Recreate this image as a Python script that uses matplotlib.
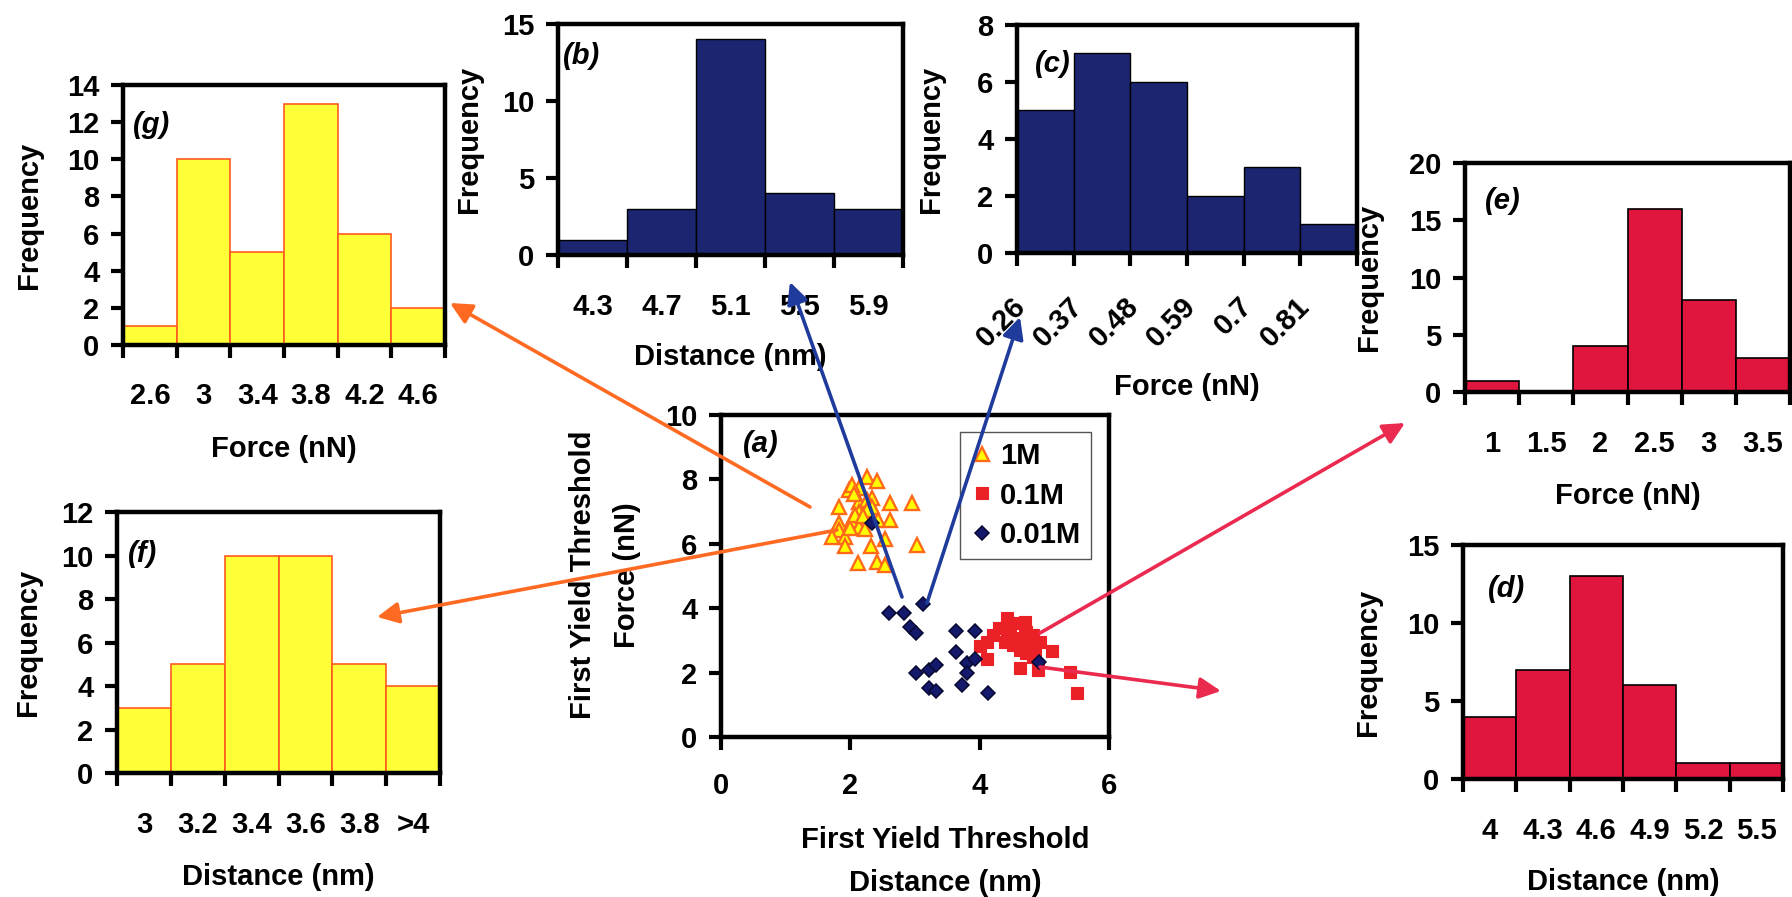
import matplotlib
matplotlib.use("Agg")
import matplotlib.pyplot as plt
from matplotlib.patches import FancyArrowPatch
import numpy as np

plt.rcParams["font.family"] = ["Liberation Sans", "DejaVu Sans"]
plt.rcParams["font.weight"] = "bold"
plt.rcParams["axes.labelweight"] = "bold"

# ---------------- histogram data ----------------
g_labels = ["2.6", "3", "3.4", "3.8", "4.2", "4.6"]
g_freq = [1, 10, 5, 13, 6, 2]

b_labels = ["4.3", "4.7", "5.1", "5.5", "5.9"]
b_freq = [1, 3, 14, 4, 3]

c_labels = ["0.26", "0.37", "0.48", "0.59", "0.7", "0.81"]
c_freq = [5, 7, 6, 2, 3, 1]

e_labels = ["1", "1.5", "2", "2.5", "3", "3.5"]
e_freq = [1, 0, 4, 16, 8, 3]

d_labels = ["4", "4.3", "4.6", "4.9", "5.2", "5.5"]
d_freq = [4, 7, 13, 6, 1, 1]

f_labels = ["3", "3.2", "3.4", "3.6", "3.8", ">4"]
f_freq = [3, 5, 10, 10, 5, 4]

# ---------------- scatter data (distance nm, force nN) ----------------
m1_dist = [2.25, 2.42, 1.98, 2.13, 2.02, 2.34, 2.14, 2.25, 1.82, 2.33, 2.62, 2.95,
           2.13, 2.25, 2.03, 2.43, 2.62, 1.83, 2.13, 2.23, 1.82, 1.71, 1.92, 1.91,
           2.32, 2.54, 3.03, 2.12, 2.41, 2.54, 1.99, 2.07, 2.20, 2.05]
m1_force = [8.08, 7.96, 7.67, 7.72, 7.83, 7.41, 7.31, 7.36, 7.15, 7.15, 7.26, 7.26,
            7.00, 7.05, 6.74, 6.74, 6.74, 6.64, 6.51, 6.45, 6.43, 6.22, 6.20, 5.93,
            5.93, 6.14, 5.96, 5.39, 5.44, 5.34, 6.48, 6.89, 6.85, 7.55]

m01_dist = [4.42, 4.55, 4.70, 4.30, 4.20, 4.11, 4.00, 4.11, 4.39, 4.52, 4.62, 4.72,
            4.83, 4.93, 4.52, 4.62, 4.72, 4.78, 4.83, 4.62, 4.90, 5.12, 5.40, 5.51,
            4.42, 4.70, 4.47, 4.85]
m01_force = [3.69, 3.55, 3.58, 3.37, 3.17, 2.96, 2.84, 2.41, 2.96, 2.86, 3.01, 3.27,
             3.17, 2.96, 3.06, 2.70, 2.60, 2.81, 2.49, 2.13, 2.08, 2.68, 2.03, 1.38,
             3.11, 3.37, 3.30, 2.70]

m001_dist = [2.33, 2.60, 2.83, 3.12, 2.93, 3.02, 3.01, 3.22, 3.32, 3.22, 3.32, 3.63,
             3.93, 3.63, 3.80, 3.93, 3.80, 3.72, 4.13, 4.91]
m001_force = [6.66, 3.84, 3.84, 4.13, 3.41, 3.22, 1.98, 2.08, 2.24, 1.51, 1.44, 3.30,
              3.30, 2.65, 2.31, 2.41, 2.00, 1.61, 1.36, 2.34]

W, H, DPI = 1792, 897, 100
FS = 21

YELLOW = "#ffff38"
YELLOW_EDGE = "#ff5a1e"
NAVY = "#1b2570"
CRIMSON = "#e1163e"
ORANGE = "#ff6a22"
BLUE_ARROW = "#1f3c9c"
RED_ARROW = "#ea2a4f"

fig = plt.figure(figsize=(W / DPI, H / DPI), dpi=DPI)
fig.patch.set_facecolor("white")


def px_axes(left, top, right, bottom):
    return fig.add_axes([left / W, 1 - bottom / H, (right - left) / W, (bottom - top) / H])


def style_frame(ax):
    for sp in ax.spines.values():
        sp.set_linewidth(3.2)
        sp.set_color("black")
    ax.tick_params(which="major", direction="out", length=9, width=3,
                   labelsize=FS, color="black")
    ax.tick_params(axis="y", which="major", pad=8)


def histogram(rect, labels, freq, ymax, ystep, face, edge, elw, tag, tag_pos,
              xlabel, xlabel_y, ylabel_x, rotate=False):
    ax = px_axes(*rect)
    n = len(freq)
    centers = np.arange(n)
    ax.bar(centers, freq, width=1.0, color=face, edgecolor=edge, linewidth=elw, zorder=2)
    ax.set_xlim(-0.5, n - 0.5)
    ax.set_ylim(0, ymax)
    ax.set_yticks(np.arange(0, ymax + ystep / 2, ystep))
    ax.set_xticks(np.arange(n + 1) - 0.5)
    ax.set_xticklabels([])
    style_frame(ax)
    if rotate:
        for i, lab in enumerate(labels):
            ax.text(i - 0.42, -0.215, lab, transform=ax.get_xaxis_transform(),
                    rotation=45, rotation_mode="anchor", ha="right", va="center",
                    fontsize=FS)
    else:
        ax.set_xticks(centers, minor=True)
        ax.set_xticklabels(labels, minor=True)
        ax.tick_params(axis="x", which="minor", length=0, pad=27, labelsize=FS)
    ax.set_xlabel(xlabel, fontsize=FS)
    ax.xaxis.set_label_coords(0.5, xlabel_y)
    ax.set_ylabel("Frequency", fontsize=FS)
    ax.yaxis.set_label_coords(ylabel_x, 0.5)
    ax.text(tag_pos[0], tag_pos[1], tag, transform=ax.transAxes, fontsize=FS,
            style="italic", ha="left", va="top")
    return ax


# histograms around the scatter plot
histogram((123, 85, 445, 345), g_labels, g_freq, 14, 2, YELLOW, YELLOW_EDGE, 1.2,
          "(g)", (0.03, 0.90), "Force (nN)", -0.346, -0.248)
histogram((558, 24, 903, 255), b_labels, b_freq, 15, 5, NAVY, "black", 1.0,
          "(b)", (0.015, 0.92), "Distance (nm)", -0.381, -0.217)
histogram((1017, 25, 1357, 253), c_labels, c_freq, 8, 2, NAVY, "black", 1.0,
          "(c)", (0.053, 0.89), "Force (nN)", -0.526, -0.212, rotate=True)
histogram((1465, 163, 1790, 392), e_labels, e_freq, 20, 5, CRIMSON, "black", 1.2,
          "(e)", (0.06, 0.895), "Force (nN)", -0.393, -0.252)
histogram((1463, 545, 1783, 779), d_labels, d_freq, 15, 5, CRIMSON, "black", 1.2,
          "(d)", (0.078, 0.87), "Distance (nm)", -0.380, -0.253)
histogram((117, 512, 440, 773), f_labels, f_freq, 12, 2, YELLOW, YELLOW_EDGE, 1.2,
          "(f)", (0.034, 0.893), "Distance (nm)", -0.345, -0.232)

# central scatter plot
ax = px_axes(721, 415, 1109, 737)
ax.plot(m1_dist, m1_force, linestyle="none", marker="^", ms=10, mfc="#ffff00",
        mec="#ff6a1a", mew=1.7, label="1M", zorder=3)
ax.plot(m01_dist, m01_force, linestyle="none", marker="s", ms=8, mfc="#ec2128",
        mec="#ec2128", mew=0.8, label="0.1M", zorder=3)
ax.plot(m001_dist, m001_force, linestyle="none", marker="D", ms=7.2, mfc="#15196b",
        mec="#070930", mew=1.1, label="0.01M", zorder=4)
ax.set_xlim(0, 6)
ax.set_ylim(0, 10)
ax.set_xticks([0, 2, 4, 6])
ax.set_yticks(range(0, 11, 2))
style_frame(ax)
ax.tick_params(axis="x", pad=16)
ax.set_xlabel("First Yield Threshold\nDistance (nm)", fontsize=FS, linespacing=1.7)
ax.xaxis.set_label_coords(0.577, -0.276)
ax.set_ylabel("First Yield Threshold\nForce (nN)", fontsize=FS, linespacing=1.7)
ax.yaxis.set_label_coords(-0.207, 0.503)
ax.text(0.057, 0.953, "(a)", transform=ax.transAxes, fontsize=FS, style="italic",
        ha="left", va="top")
leg = ax.legend(loc="upper right", bbox_to_anchor=(0.954, 0.948), frameon=True,
                fancybox=False, edgecolor="#555555", framealpha=1,
                prop={"size": FS, "weight": "bold"}, handlelength=0.8,
                handletextpad=0.2, labelspacing=0.4, borderpad=0.35,
                borderaxespad=0)
leg.get_frame().set_linewidth(1.0)

# arrows linking the scatter clusters to their histograms (figure pixels, y down)
links = [
    ((810, 507), (450, 303), ORANGE),
    ((837, 530), (377, 617), ORANGE),
    ((902, 597), (790, 282), BLUE_ARROW),
    ((927, 603), (1020, 317), BLUE_ARROW),
    ((1040, 633), (1405, 423), RED_ARROW),
    ((1040, 667), (1221, 691), RED_ARROW),
]
for (x0, y0), (x1, y1), col in links:
    arr = FancyArrowPatch((x0 / W, 1 - y0 / H), (x1 / W, 1 - y1 / H),
                          transform=fig.transFigure,
                          arrowstyle="-|>,head_length=0.65,head_width=0.32",
                          mutation_scale=20, color=col, linewidth=2.6,
                          shrinkA=0, shrinkB=0, zorder=5)
    fig.add_artist(arr)

fig.savefig("out.png", dpi=DPI, facecolor="white")
